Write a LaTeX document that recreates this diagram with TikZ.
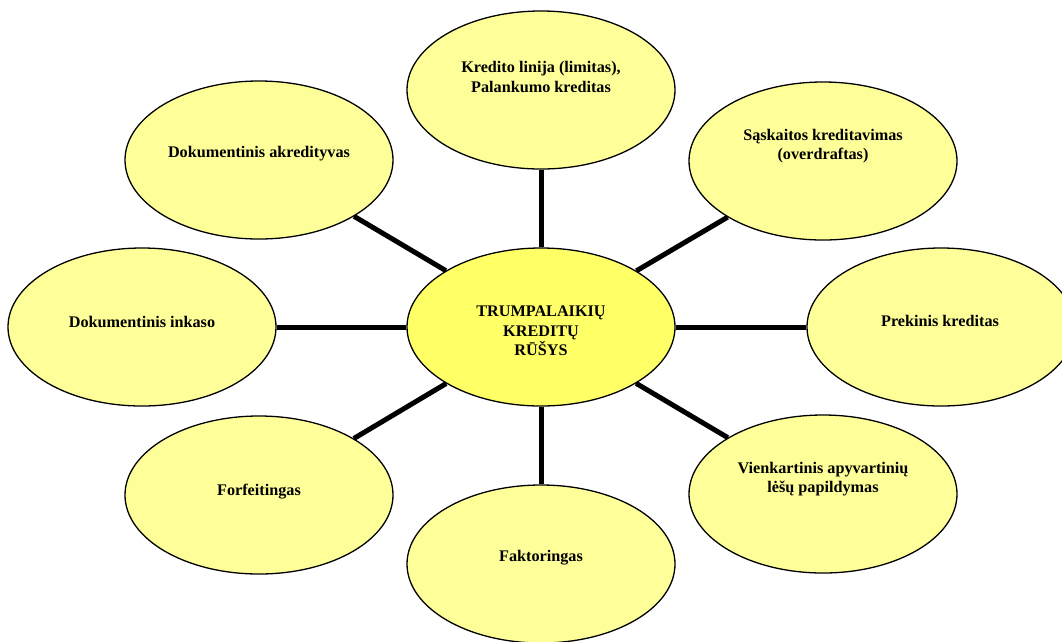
\documentclass[tikz,border=0pt]{standalone}
\usepackage{fontspec}
\setmainfont{Liberation Serif}
\usetikzlibrary{shapes.geometric}
\definecolor{outerfill}{RGB}{255,255,153}
\definecolor{centerfill}{RGB}{255,255,102}
\tikzset{
  oval/.style={ellipse, draw=black, line width=1.3pt, minimum width=268pt, minimum height=158pt, inner sep=0pt},
  outer/.style={oval, fill=outerfill},
  core/.style={oval, fill=centerfill},
  txt/.style={align=center, inner sep=0pt, font=\fontsize{16.2}{19.3}\selectfont\bfseries},
  link/.style={line width=5pt, black}
}
\begin{document}
\begin{tikzpicture}[x=1pt,y=-1pt]
\useasboundingbox (0,0) rectangle (1062,641);
\clip (0,0) rectangle (1062,641);
% ellipses
\node[core]  (c)  at (541,327) {};
\node[outer] (n)  at (541,90)  {};
\node[outer] (nw) at (259,160) {};
\node[outer] (ne) at (823,161) {};
\node[outer] (w)  at (142,327) {};
\node[outer] (e)  at (941,327) {};
\node[outer] (sw) at (259,495) {};
\node[outer] (se) at (823,494) {};
\node[outer] (s)  at (541,564) {};
% connectors
\draw[link] (c) -- (n);
\draw[link] (c) -- (nw);
\draw[link] (c) -- (ne);
\draw[link] (c) -- (w);
\draw[link] (c) -- (e);
\draw[link] (c) -- (sw);
\draw[link] (c) -- (se);
\draw[link] (c) -- (s);
% texts
\node[txt] (tc)  at (541,331) {TRUMPALAIKIŲ\\KREDITŲ\\RŪŠYS};
\node[txt] (tn)  at (541,77)  {Kredito linija (limitas),\\Palankumo kreditas};
\node[txt] (tnw) at (259,154) {Dokumentinis akredityvas};
\node[txt] (tne) at (823,146) {Sąskaitos kreditavimas\\(overdraftas)};
\node[txt] (tw)  at (142,322) {Dokumentinis inkaso};
\node[txt] (te)  at (940,321) {Prekinis kreditas};
\node[txt] (tsw) at (259,492) {Forfeitingas};
\node[txt] (tse) at (823,479) {Vienkartinis apyvartinių\\lėšų papildymas};
\node[txt] (ts)  at (541,558) {Faktoringas};
\end{tikzpicture}
\end{document}
